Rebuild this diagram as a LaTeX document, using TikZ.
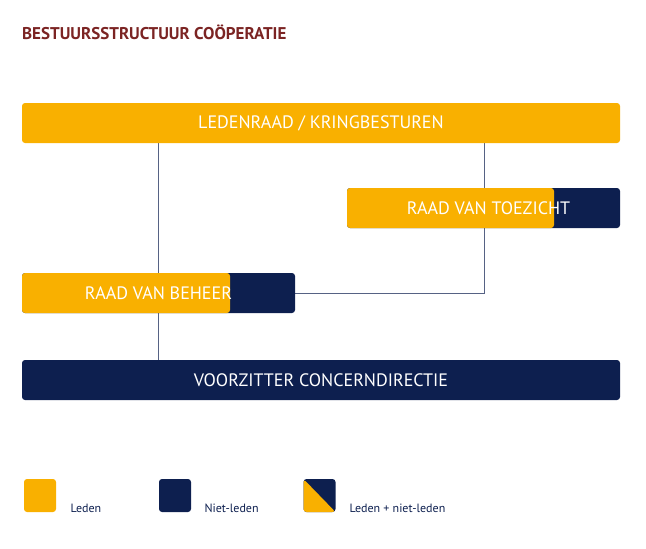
\documentclass[tikz,border=0pt]{standalone}
\usepackage{fontspec}
\setmainfont{PT Sans}
\definecolor{oranje}{HTML}{F9B000}
\definecolor{navy}{HTML}{0D1F4F}
\definecolor{titelrood}{HTML}{7B2423}
\tikzset{
  orgbox/.style={rounded corners=3pt, minimum height=40pt, inner sep=0pt, text=white, font=\fontsize{18}{20}\selectfont},
  legbox/.style={rounded corners=3pt, minimum width=32pt, minimum height=33pt, inner sep=0pt},
  legtext/.style={anchor=base west, text=navy, font=\fontsize{12}{14}\selectfont},
  verbinding/.style={draw=navy!70, line width=0.7pt}
}
\begin{document}
\begin{tikzpicture}[x=1pt, y=-1pt]
        \useasboundingbox (0,0) rectangle (646,549);
        % Titel
        \node[anchor=base west, text=titelrood, font=\bfseries\fontsize{17}{19}\selectfont, inner sep=0pt] (titel) at (22,39) {BESTUURSSTRUCTUUR COÖPERATIE};

        % Verbindingen
        \draw[verbinding] (158,143) -- (158,360);
        \draw[verbinding] (484,143) |- (295,293);

        % Organen
        \node[orgbox, fill=oranje, minimum width=598pt] (lr) at (321,123) {LEDENRAAD / KRINGBESTUREN};
        \node[orgbox, fill=navy, minimum width=273pt, path picture={\fill[oranje] (path picture bounding box.south west) rectangle ([xshift=207pt]path picture bounding box.north west);}] (rvt) at (483.5,208) {\hspace*{10pt}RAAD VAN TOEZICHT};
        \node[orgbox, fill=navy, minimum width=273pt, path picture={\fill[oranje] (path picture bounding box.south west) rectangle ([xshift=208pt]path picture bounding box.north west);}] (rvb) at (158.5,293) {RAAD VAN BEHEER};
        \node[orgbox, fill=navy, minimum width=598pt] (vz) at (321,380) {VOORZITTER CONCERNDIRECTIE};

        % Legenda
        \node[legbox, fill=oranje] (l1) at (40,495.5) {};
        \node[legtext] at (67,512) {Leden};
        \node[legbox, fill=navy] (l2) at (175,495.5) {};
        \node[legtext] at (201,512) {Niet-leden};
        \node[legbox, fill=navy, path picture={\fill[oranje] (path picture bounding box.north west) -- (path picture bounding box.south east) -- (path picture bounding box.south west) -- cycle;}] (l3) at (319.5,495.5) {};
        \node[legtext] at (346,512) {Leden + niet-leden};
\end{tikzpicture}
\end{document}
